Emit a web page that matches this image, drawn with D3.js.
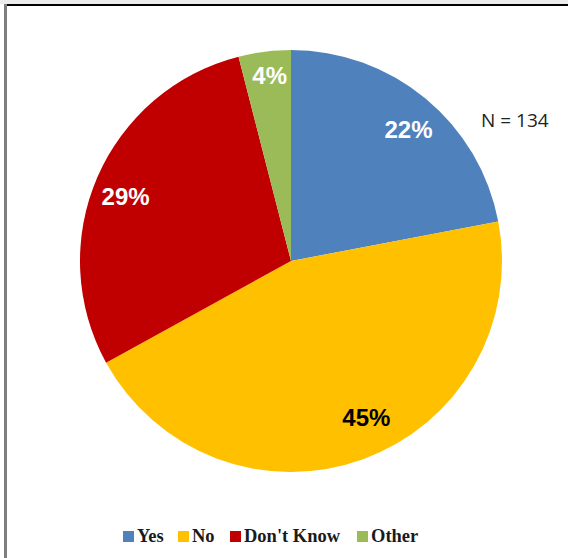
<!DOCTYPE html>
<html>
<head>
<meta charset="utf-8">
<script src="https://cdn.jsdelivr.net/npm/d3@7"></script>
<style>
  body { margin: 0; background: #fff; }
  svg { display: block; }
</style>
</head>
<body>
<div id="chart"></div>
<script>
// answers and their share (percent), drawn clockwise from 12 o'clock
const categories = ["Yes", "No", "Don't Know", "Other"]
const shares = [22, 45, 29, 4]
const sliceColors = ["#4f81bd", "#ffc000", "#c00000", "#9bbb59"]
const labelColors = ["#fff", "#000", "#fff", "#fff"]
const sampleNote = "N = 134"

const width = 568
const height = 558
const cx = 291
const cy = 261
const radius = 211

// small shifts so the labels sit where the original placed them
const labelNudge = [[4, 6], [15, -11], [-2, 6], [1, 1]]

const svg = d3.select("#chart")
    .append("svg")
    .attr("width", width)
    .attr("height", height)

// frame: light strip on top, dark top rule, grey left rule
svg.append("rect").attr("x", 0).attr("y", 0).attr("width", width).attr("height", 4).attr("fill", "#ececec")
svg.append("rect").attr("x", 6).attr("y", 4).attr("width", width - 6).attr("height", 2).attr("fill", "#000")
svg.append("rect").attr("x", 4).attr("y", 4).attr("width", 3).attr("height", height - 4).attr("fill", "#7f7f7f")

const data = categories.map((c, i) => ({ name: c, value: shares[i], color: sliceColors[i], labelColor: labelColors[i], nudge: labelNudge[i] }))

const pie = d3.pie()
    .value(d => d.value)
    .sort(null)

const arc = d3.arc()
    .innerRadius(0)
    .outerRadius(radius)

const labelArc = d3.arc()
    .innerRadius(178)
    .outerRadius(178)

const g = svg.append("g")
    .attr("transform", `translate(${cx},${cy})`)

const arcs = pie(data)

g.selectAll("path")
    .data(arcs)
    .enter().append("path")
    .attr("d", arc)
    .attr("fill", d => d.data.color)

g.selectAll("text")
    .data(arcs)
    .enter().append("text")
    .attr("transform", d => {
        let p = labelArc.centroid(d)
        if (d.data.value < 5) p = [p[0], p[1] - 10]
        return `translate(${p[0] + d.data.nudge[0]},${p[1] + d.data.nudge[1]})`
    })
    .attr("text-anchor", "middle")
    .attr("dy", "0.35em")
    .attr("font-family", "Liberation Sans, Arial, sans-serif")
    .attr("font-weight", "bold")
    .attr("font-size", 24)
    .attr("fill", d => d.data.labelColor)
    .text(d => d.data.value + "%")

svg.append("text")
    .attr("x", 481)
    .attr("y", 127)
    .attr("font-family", "Open Sans, Liberation Sans, sans-serif")
    .attr("font-size", 19)
    .attr("fill", "#222")
    .text(sampleNote)

// legend
const legendX = [123, 178, 230, 357]
const legend = svg.append("g").attr("class", "legend")
const items = legend.selectAll("g")
    .data(data)
    .enter().append("g")
    .attr("transform", (d, i) => `translate(${legendX[i]},531)`)

items.append("rect")
    .attr("width", 11)
    .attr("height", 11)
    .attr("fill", d => d.color)

items.append("text")
    .attr("x", 14)
    .attr("y", 11)
    .attr("font-family", "Liberation Serif, Times New Roman, serif")
    .attr("font-weight", "bold")
    .attr("font-size", 18.5)
    .attr("fill", "#1a1a1a")
    .text(d => d.name)
</script>
</body>
</html>
